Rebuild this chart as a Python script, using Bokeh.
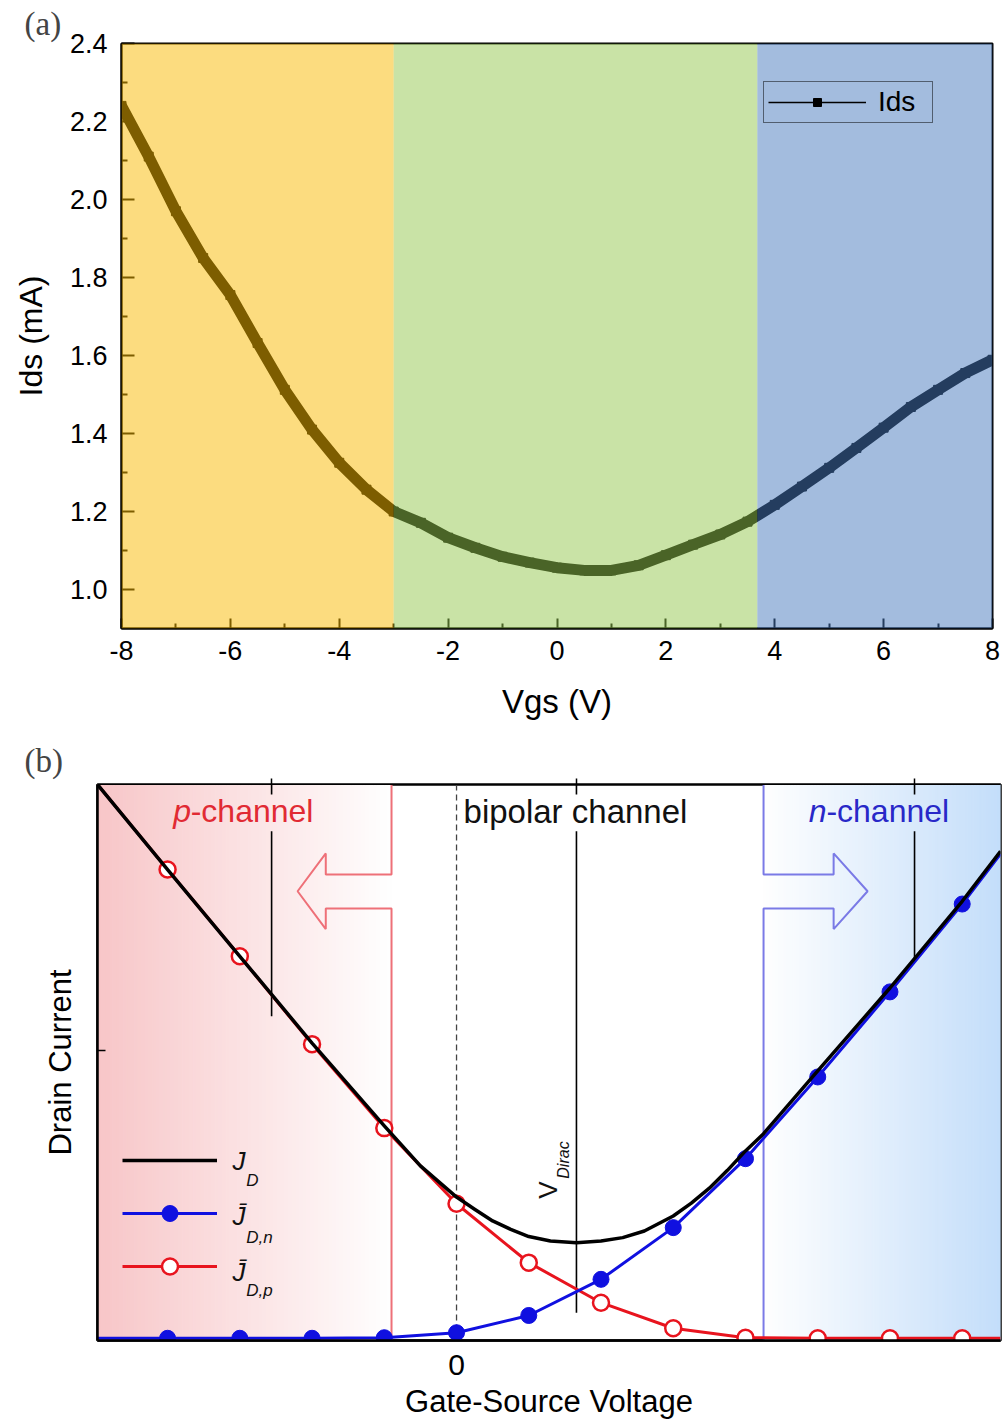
import numpy as np
from bokeh.plotting import figure
from bokeh.models import (ColumnDataSource, BoxAnnotation, Legend, LegendItem, Label,
                          FixedTicker, LinearAxis, Range1d, PrintfTickFormatter)
from bokeh.embed import file_html
from bokeh.resources import INLINE
from bokeh.core.properties import value

SANS = "Liberation Sans"
SERIF = "Liberation Serif"

# ---------------- panel (a) data ----------------
vgs = [-8, -7.5, -7, -6.5, -6, -5.5, -5, -4.5, -4, -3.5, -3, -2.5, -2, -1.5, -1, -0.5,
       0, 0.5, 1, 1.5, 2, 2.5, 3, 3.5, 4, 4.5, 5, 5.5, 6, 6.5, 7, 7.5, 8]
ids = [2.24, 2.11, 1.97, 1.85, 1.755, 1.632, 1.512, 1.41, 1.325, 1.256, 1.20, 1.171,
       1.133, 1.107, 1.084, 1.069, 1.056, 1.049, 1.049, 1.062, 1.088, 1.115, 1.141,
       1.174, 1.217, 1.264, 1.312, 1.363, 1.415, 1.468, 1.512, 1.555, 1.589]
region_edges = [-8, -3.0, 3.68, 8]
region_colors = ["#FABA00", "#94C84E", "#487ABE"]
x_ticks_a = [-8, -6, -4, -2, 0, 2, 4, 6, 8]
x_minor_a = [-7, -5, -3, -1, 1, 3, 5, 7]
y_ticks_a = [1.0, 1.2, 1.4, 1.6, 1.8, 2.0, 2.2, 2.4]
y_minor_a = [1.1, 1.3, 1.5, 1.7, 1.9, 2.1, 2.3]

# ---------------- panel (b) data ----------------
marker_v = [-4, -3, -2, -1, 0, 1, 2, 3, 4, 5, 6, 7]
jdp = [8.47, 6.91, 5.33, 3.82, 2.46, 1.40, 0.68, 0.22, 0.05, 0.04, 0.04, 0.04]
jdn = [0.04, 0.04, 0.04, 0.05, 0.14, 0.45, 1.10, 2.03, 3.27, 4.74, 6.27, 7.85]
edge_v = [-4.97, 7.53]
jdp_edges = [10.0, 0.04]
jdn_edges = [0.04, 8.75]
jd_v = [-4.97, -4, -3, -2, -1, -0.5, 0, 0.25, 0.5, 0.75, 1, 1.3, 1.66, 2.0, 2.3, 2.6,
        3, 3.25, 3.5, 3.75, 4, 4.25, 5, 6, 7, 7.53]
jd = [10.0, 8.47, 6.91, 5.35, 3.86, 3.14, 2.58, 2.36, 2.15, 2.00, 1.87, 1.79, 1.76,
      1.79, 1.85, 1.97, 2.24, 2.47, 2.74, 3.06, 3.41, 3.72, 4.85, 6.34, 7.90, 8.80]
p_bound = -0.90
n_bound = 4.25
v_dirac = 1.66
v_lines = [-2.56, v_dirac, 6.34]
seg_x = [-2.56, -2.56, 1.66, 1.66, 6.34, 6.34]
seg_y0 = [10, 9.16, 10, 9.16, 10, 9.16]
seg_y1 = [9.82, 5.83, 9.82, 0.50, 9.82, 6.82]
p_arrow_x = [-0.90, -0.90, -1.81, -1.81, -2.20, -1.81, -1.81, -0.90, -0.90]
p_arrow_y = [10.0, 8.38, 8.38, 8.76, 8.08, 7.40, 7.77, 7.77, 0.0]
n_arrow_x = [4.25, 4.25, 5.22, 5.22, 5.69, 5.22, 5.22, 4.25, 4.25]
n_arrow_y = [10.0, 8.38, 8.38, 8.76, 8.08, 7.40, 7.77, 7.77, 0.0]
drain_tick = [5.21]

# ======================= panel (a) =======================
pa = figure(width=1002, height=740, x_range=Range1d(-8, 8), y_range=Range1d(0.9, 2.4),
            output_backend="svg", toolbar_location=None,
            min_border_left=121, min_border_right=10, min_border_top=43, min_border_bottom=112)
pa.xgrid.visible = False
pa.ygrid.visible = False
pa.outline_line_color = "black"
pa.outline_line_width = 2
pa.title.text = "(a)"
pa.title.align = "left"
pa.title.offset = -97
pa.title.standoff = 4
pa.title.text_font = SERIF
pa.title.text_font_size = "33px"
pa.title.text_font_style = "normal"

pa.xaxis.ticker = FixedTicker(ticks=x_ticks_a, minor_ticks=x_minor_a)
pa.yaxis.ticker = FixedTicker(ticks=y_ticks_a, minor_ticks=y_minor_a)
pa.xaxis.formatter = PrintfTickFormatter(format="%d")
pa.yaxis.formatter = PrintfTickFormatter(format="%.1f")
for ax in (pa.xaxis[0], pa.yaxis[0]):
    ax.axis_line_color = "black"
    ax.axis_line_width = 2
    ax.major_tick_out = 0
    ax.minor_tick_out = 0
    ax.major_tick_line_width = 2
    ax.minor_tick_line_width = 2
    ax.major_tick_line_color = "black"
    ax.minor_tick_line_color = "black"
    ax.major_label_text_font = SANS
    ax.major_label_text_font_size = "27px"
    ax.major_label_text_color = "black"
    ax.axis_label_text_font = SANS
    ax.axis_label_text_font_style = "normal"
    ax.axis_label_text_color = "black"
pa.xaxis.major_tick_in = 10
pa.xaxis.minor_tick_in = 5
pa.yaxis.major_tick_in = 13
pa.yaxis.minor_tick_in = 6
pa.xaxis.axis_label = "Vgs (V)"
pa.yaxis.axis_label = "Ids (mA)"
pa.xaxis.axis_label_text_font_size = "33px"
pa.yaxis.axis_label_text_font_size = "32px"
pa.xaxis.major_label_standoff = 12
pa.yaxis.major_label_standoff = 14
pa.xaxis.axis_label_standoff = 20
pa.yaxis.axis_label_standoff = 18

src_a = ColumnDataSource(dict(vgs=vgs, ids=ids))
leg_line = pa.line("vgs", "ids", source=src_a, line_color="black", line_width=1.5)
leg_sq = pa.scatter("vgs", "ids", source=src_a, marker="square", size=9,
                    fill_color="black", line_color="black")
pa.line("vgs", "ids", source=src_a, line_color="black", line_width=11)

legend_a = Legend(items=[LegendItem(label=value("Ids"), renderers=[leg_line, leg_sq])],
                  location=(642, 505), margin=0, padding=4, spacing=0,
                  glyph_width=98, glyph_height=20, label_standoff=12, label_width=50,
                  label_text_font=SANS, label_text_font_size="28px",
                  label_text_color="black", border_line_color="black",
                  border_line_width=1.2, background_fill_alpha=0)
pa.add_layout(legend_a)

for i in range(3):
    pa.add_layout(BoxAnnotation(left=region_edges[i], right=region_edges[i + 1],
                                fill_color=region_colors[i], fill_alpha=0.5,
                                line_alpha=0, level="overlay"))

# ======================= panel (b) =======================
x_min, x_max = -4.97, 7.53
pb = figure(width=1002, height=685, x_range=Range1d(x_min, x_max), y_range=Range1d(0, 10),
            output_backend="svg", toolbar_location=None,
            min_border_left=97, min_border_right=2, min_border_top=43, min_border_bottom=85)
pb.xgrid.visible = False
pb.ygrid.visible = False
pb.outline_line_color = "black"
pb.outline_line_width = 2.5
pb.title.text = "(b)"
pb.title.align = "left"
pb.title.offset = -73
pb.title.standoff = 0
pb.title.text_font = SERIF
pb.title.text_font_size = "33px"
pb.title.text_font_style = "normal"

pb.xaxis.ticker = FixedTicker(ticks=[0])
pb.yaxis.ticker = FixedTicker(ticks=drain_tick)
for ax in (pb.xaxis[0], pb.yaxis[0]):
    ax.axis_line_color = "black"
    ax.axis_line_width = 2.5
    ax.major_tick_out = 0
    ax.major_tick_line_color = "black"
    ax.major_tick_line_width = 1.5
    ax.axis_label_text_font = SANS
    ax.axis_label_text_font_style = "normal"
    ax.axis_label_text_font_size = "31px"
    ax.axis_label_text_color = "black"
    ax.major_label_text_font = SANS
    ax.major_label_text_color = "black"
pb.xaxis.major_tick_in = 0
pb.xaxis.major_label_text_font_size = "30px"
pb.xaxis.major_label_standoff = 14
pb.xaxis.axis_label = "Gate-Source Voltage"
pb.xaxis.axis_label_standoff = 6
pb.yaxis.major_tick_in = 8
pb.yaxis.major_label_text_font_size = "1px"
pb.yaxis.major_label_text_alpha = 0
pb.yaxis.major_label_standoff = 0
pb.yaxis.axis_label = "Drain Current"
pb.yaxis.axis_label_standoff = 20

top_axis = LinearAxis(ticker=FixedTicker(ticks=v_lines), major_tick_out=6, major_tick_in=0,
                      major_tick_line_width=1.5, axis_line_color="black",
                      major_label_text_font_size="1px", major_label_text_alpha=0,
                      major_label_standoff=0)
pb.add_layout(top_axis, "above")

# gradient backgrounds
n = 80
t = (np.arange(n) + 0.5) / n
red_edges = np.linspace(x_min, p_bound, n + 1)
red_cols = ["#%02x%02x%02x" % (int(248 + 7 * s), int(198 + 57 * s), int(200 + 55 * s)) for s in t]
blue_edges = np.linspace(n_bound, x_max, n + 1)
blue_cols = ["#%02x%02x%02x" % (int(255 - 59 * s), int(255 - 33 * s), int(255 - 5 * s)) for s in t]
pb.quad(left=red_edges[:-1], right=red_edges[1:], bottom=0, top=10,
        fill_color=red_cols, line_color=red_cols, line_width=1)
pb.quad(left=blue_edges[:-1], right=blue_edges[1:], bottom=0, top=10,
        fill_color=blue_cols, line_color=blue_cols, line_width=1)

# dashed zero line and vertical markers
pb.segment(x0=[0], y0=[0], x1=[0], y1=[10], line_color="#444444", line_width=1.3,
           line_dash="6 4")
pb.segment(x0=seg_x, y0=seg_y0, x1=seg_x, y1=seg_y1, line_color="black", line_width=1.6)

# arrows / region boundaries
pb.line(p_arrow_x, p_arrow_y, line_color="#ee7078", line_width=2)
pb.line(n_arrow_x, n_arrow_y, line_color="#7a7ae6", line_width=2)

# curves
red_line = pb.line(edge_v[:1] + marker_v + edge_v[1:], jdp_edges[:1] + jdp + jdp_edges[1:],
                   line_color="#e8141e", line_width=3)
blue_line = pb.line(edge_v[:1] + marker_v + edge_v[1:], jdn_edges[:1] + jdn + jdn_edges[1:],
                    line_color="#1010e0", line_width=3)
red_pts = pb.scatter(marker_v, jdp, marker="circle", size=16, fill_color="white",
                     line_color="#e8141e", line_width=2.5)
blue_pts = pb.scatter(marker_v, jdn, marker="circle", size=16, fill_color="#1010e0",
                      line_color="#1010e0", line_width=1)
black_line = pb.line(jd_v, jd, line_color="black", line_width=3.5, line_join="round")

# region titles
pb.add_layout(Label(x=-3.92, y=9.515, text="p", text_font=SANS, text_font_style="italic",
                    text_font_size="32px", text_color="#e12a33", text_baseline="middle"))
pb.add_layout(Label(x=-3.68, y=9.515, text="-channel", text_font=SANS,
                    text_font_size="32px", text_color="#e12a33", text_baseline="middle"))
pb.add_layout(Label(x=0.097, y=9.515, text="bipolar channel", text_font=SANS,
                    text_font_size="33px", text_color="#111111", text_baseline="middle"))
pb.add_layout(Label(x=4.875, y=9.515, text="n", text_font=SANS, text_font_style="italic",
                    text_font_size="32px", text_color="#2828c8", text_baseline="middle"))
pb.add_layout(Label(x=5.12, y=9.515, text="-channel", text_font=SANS,
                    text_font_size="32px", text_color="#2828c8", text_baseline="middle"))

# V_Dirac
pb.add_layout(Label(x=1.27, y=2.55, text="V", angle=np.pi / 2, text_font=SANS,
                    text_font_size="26px", text_baseline="middle", text_align="left",
                    text_color="#111111"))
pb.add_layout(Label(x=1.48, y=2.91, text="Dirac", angle=np.pi / 2, text_font=SANS,
                    text_font_style="italic", text_font_size="16px", text_baseline="middle",
                    text_align="left", text_color="#111111"))

# legend (b)
legend_b = Legend(items=[LegendItem(label=value(" "), renderers=[black_line]),
                         LegendItem(label=value(" "), renderers=[blue_line, blue_pts]),
                         LegendItem(label=value(" "), renderers=[red_line, red_pts])],
                  location=(25, 54), margin=0, padding=0, spacing=13,
                  glyph_width=95, glyph_height=40, label_standoff=10,
                  label_text_font_size="16px", border_line_alpha=0,
                  background_fill_alpha=0)
pb.add_layout(legend_b)

leg_labels = [("J", -3.10, 3.23, "26px"), ("D", -2.91, 2.87, "17px"),
              ("J\u0304", -3.10, 2.24, "26px"), ("D,n", -2.91, 1.85, "17px"),
              ("J\u0304", -3.10, 1.24, "26px"), ("D,p", -2.91, 0.90, "17px")]
for txt, lx, ly, fs in leg_labels:
    pb.add_layout(Label(x=lx, y=ly, text=txt, text_font=SANS, text_font_style="italic",
                        text_font_size=fs, text_baseline="middle", text_align="left",
                        text_color="#111111"))

open("out.html", "w").write(file_html([pa, pb], INLINE))
